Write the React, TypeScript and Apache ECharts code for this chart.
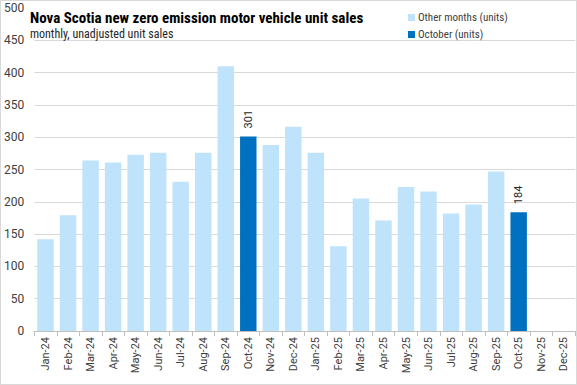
import React, { useEffect, useRef } from "react";
import * as echarts from "echarts";

const categories = [
  "Jan-24", "Feb-24", "Mar-24", "Apr-24", "May-24", "Jun-24", "Jul-24", "Aug-24", "Sep-24", "Oct-24", "Nov-24", "Dec-24",
  "Jan-25", "Feb-25", "Mar-25", "Apr-25", "May-25", "Jun-25", "Jul-25", "Aug-25", "Sep-25", "Oct-25", "Nov-25", "Dec-25",
];
const otherMonths: (number | string)[] = [
  142, 179, 264, 261, 273, 276, 231, 276, 410, "-", 288, 316,
  276, 131, 205, 171, 223, 216, 182, 196, 247, "-", "-", "-",
];
const october: (number | string)[] = [
  "-", "-", "-", "-", "-", "-", "-", "-", "-", 301, "-", "-",
  "-", "-", "-", "-", "-", "-", "-", "-", "-", 184, "-", "-",
];
const yTicks = [0, 50, 100, 150, 200, 250, 300, 350, 400, 450, 500];

export default function App() {
  const ref = useRef<HTMLDivElement>(null);
  useEffect(() => {
    if (!ref.current) return;
    const chart = echarts.init(ref.current, undefined, { renderer: "svg" });
    const font = "Roboto, 'Liberation Sans', sans-serif";
    const narrow = "'Liberation Sans Narrow', 'Roboto Condensed', 'DejaVu Sans Condensed', sans-serif";
    const gridColors = yTicks.map((v) => (v === 500 ? "rgba(0,0,0,0)" : "#d9d9d9"));
    chart.setOption({
      animation: false,
      backgroundColor: "#ffffff",
      textStyle: { fontFamily: font },
      title: {
        text: "Nova Scotia new zero emission motor vehicle unit sales",
        subtext: "monthly, unadjusted unit sales",
        left: 24,
        top: 4,
        itemGap: 3,
        textStyle: { fontSize: 15, fontWeight: "bold", color: "#000000", fontFamily: narrow },
        subtextStyle: { fontSize: 12, color: "#262626", fontFamily: narrow },
      },
      legend: {
        orient: "vertical",
        left: 402,
        top: 6,
        itemWidth: 7,
        itemHeight: 7,
        itemGap: 6,
        icon: "rect",
        textStyle: { fontSize: 11, color: "#404040", fontFamily: narrow, padding: [0, 0, 0, -2] },
        data: ["Other months (units)", "October (units)"],
      },
      grid: { left: 32, right: 1, top: 7, bottom: 53, containLabel: false },
      xAxis: {
        type: "category",
        data: categories,
        boundaryGap: true,
        axisLine: { show: true, lineStyle: { color: "#bfbfbf" } },
        axisTick: { show: true, alignWithLabel: false, length: 5, lineStyle: { color: "#bfbfbf" } },
        axisLabel: { rotate: 90, fontSize: 11, color: "#404040", margin: 6, interval: 0 },
      },
      yAxis: {
        type: "value",
        min: 0,
        max: 500,
        interval: 50,
        axisLine: { show: false },
        axisTick: { show: false },
        axisLabel: { fontSize: 12, color: "#404040", margin: 10 },
        splitLine: { show: true, lineStyle: { color: gridColors, width: 1 } },
      },
      series: [
        {
          name: "Other months (units)",
          type: "bar",
          data: otherMonths,
          barCategoryGap: "27%",
          barGap: "-100%",
          itemStyle: { color: "#bfe3fb" },
        },
        {
          name: "October (units)",
          type: "bar",
          data: october,
          barCategoryGap: "27%",
          barGap: "-100%",
          itemStyle: { color: "#0070c0" },
          label: {
            show: true,
            position: "top",
            rotate: 90,
            distance: 8,
            align: "left",
            verticalAlign: "middle",
            fontSize: 11,
            color: "#262626",
          },
        },
      ],
    });
    return () => chart.dispose();
  }, []);
  return (
    <div
      style={{
        position: "fixed",
        left: 0,
        top: 0,
        width: 577,
        height: 385,
        boxSizing: "border-box",
        border: "1px solid #d9d9d9",
        background: "#fff",
      }}
    >
      <div ref={ref} style={{ width: 575, height: 383 }} />
    </div>
  );
}
